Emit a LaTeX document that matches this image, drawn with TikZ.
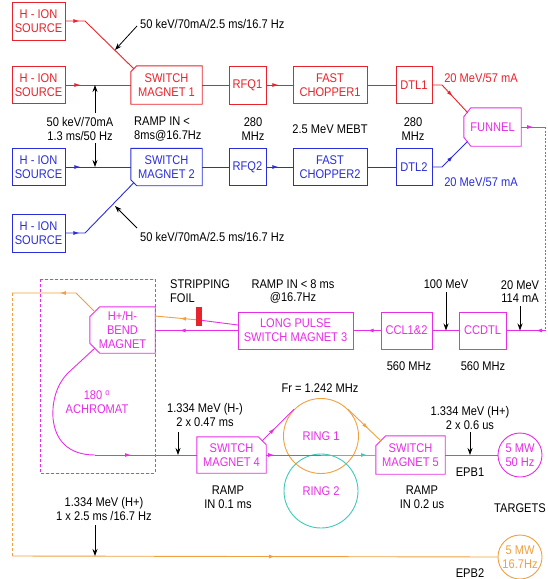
\documentclass[tikz,border=0pt]{standalone}
\usepackage{fontspec}
\setmainfont{Liberation Sans}[FakeStretch=0.88]
\usetikzlibrary{arrows.meta,decorations.markings,calc}
\definecolor{cred}{HTML}{E8232B}
\definecolor{cblue}{HTML}{2A2ED8}
\definecolor{cmag}{HTML}{E62EE6}
\definecolor{corange}{HTML}{F0A040}
\definecolor{cteal}{HTML}{40C8B8}
\tikzset{
  fs/.style={font=\fontsize{12.6}{13.8}\selectfont},
  lbl/.style={fs, align=center, inner sep=0},
  box/.style={fs, draw, rectangle, line width=0.9pt, inner sep=0, align=center},
  tbox/.style={fs, rectangle, inner sep=0, align=center},
  ln/.style={line width=0.9pt},
  outl/.style={line width=0.9pt},
  midarr/.style={postaction={decorate}, decoration={markings, mark=at position #1 with {\arrow{Latex[length=6pt,width=4pt]}}}},
  larr/.style={black, line width=0.8pt, -{Stealth[length=7pt,width=5pt]}},
  ring/.style={fs, circle, draw, line width=0.9pt, inner sep=0, align=center}
}
\begin{document}
\begin{tikzpicture}[x=1pt,y=-1pt]
\useasboundingbox (0,0) rectangle (547,579);

% ---------------- red line ----------------
\node[box, cred, minimum width=53, minimum height=38] (src1) at (38.5,21) {H - ION\\SOURCE};
\node[box, cred, minimum width=53, minimum height=37] (src2) at (38.5,85) {H - ION\\SOURCE};
\node[tbox, cred, minimum width=71, minimum height=38] (sm1) at (166.5,85) {SWITCH\\MAGNET 1};
\draw[cred, outl] ($(sm1.north west)+(6,0)$) -- (sm1.north east) -- (sm1.south east) -- (sm1.south west) -- ($(sm1.north west)+(0,6)$) -- cycle;
\node[box, cred, minimum width=37, minimum height=38] (rfq1) at (247.5,85) {RFQ1};
\node[box, cred, minimum width=74, minimum height=37] (fc1) at (330,85) {FAST\\CHOPPER1};
\node[box, cred, minimum width=36, minimum height=37] (dtl1) at (414,85) {DTL1};

% ---------------- blue line ----------------
\node[box, cblue, minimum width=53, minimum height=37] (src3) at (38.5,167) {H - ION\\SOURCE};
\node[box, cblue, minimum width=53, minimum height=38] (src4) at (38.5,233) {H - ION\\SOURCE};
\node[tbox, cblue, minimum width=71, minimum height=37] (sm2) at (166.5,167) {SWITCH\\MAGNET 2};
\draw[cblue, outl] (sm2.north west) -- (sm2.north east) -- (sm2.south east) -- ($(sm2.south west)+(6,0)$) -- ($(sm2.south west)+(0,-6)$) -- cycle;
\node[box, cblue, minimum width=37, minimum height=37] (rfq2) at (247.5,167) {RFQ2};
\node[box, cblue, minimum width=74, minimum height=37] (fc2) at (330,167) {FAST\\CHOPPER2};
\node[box, cblue, minimum width=36, minimum height=37] (dtl2) at (414,167) {DTL2};

% funnel
\node[tbox, cmag, minimum width=57, minimum height=38] (fun) at (492.5,127) {FUNNEL};
\draw[cmag, outl] ($(fun.north west)+(7,0)$) -- (fun.north east) -- (fun.south east) -- ($(fun.south west)+(7,0)$) -- ($(fun.south west)+(0,-9)$) -- ($(fun.north west)+(0,9)$) -- cycle;

% red connectors
\coordinate (r1a) at (85,21);
\coordinate (sm1c) at (134,69);
\draw[cred, ln, midarr=14pt] (src1.east) -- (r1a) -- (sm1c);
\draw[cred, ln, midarr=15pt] (src2.east) -- (sm1.west);
\draw[cred, ln] (sm1.east) -- (rfq1.west);
\draw[cred, ln, midarr=12pt] (rfq1.east) -- (fc1.west);
\draw[cred, ln] (fc1.east) -- (dtl1.west);
\coordinate (r2a) at (442,85);
\coordinate (funt) at (467.5,112.5);
\draw[cred, ln, midarr=25pt] (dtl1.east) -- (r2a) -- (funt);

% blue connectors
\coordinate (b1a) at (85,233);
\coordinate (sm2c) at (134,182.5);
\draw[cblue, ln, midarr=14pt] (src4.east) -- (b1a) -- (sm2c);
\draw[cblue, ln, midarr=15pt] (src3.east) -- (sm2.west);
\draw[cblue, ln] (sm2.east) -- (rfq2.west);
\draw[cblue, ln, midarr=12pt] (rfq2.east) -- (fc2.west);
\draw[cblue, ln] (fc2.east) -- (dtl2.west);
\coordinate (b2a) at (442,167);
\coordinate (funb) at (467.5,141.5);
\draw[cblue, ln, midarr=25pt] (dtl2.east) -- (b2a) -- (funb);

% funnel out
\coordinate (rt1) at (545,127);
\coordinate (rt2) at (545,330.5);
\draw[cmag, ln, midarr=12pt] (fun.east) -- (rt1);
\draw[cmag, line width=0.6pt, dash pattern=on 2pt off 1.5pt] (rt1) -- (rt2);

% upper labels
\node[lbl, anchor=west] (t1) at (140,24) {50 keV/70mA/2.5 ms/16.7 Hz};
\node[lbl, anchor=west] (t2) at (140,237) {50 keV/70mA/2.5 ms/16.7 Hz};
\node[lbl] (t3) at (80,129) {50 keV/70mA\\1.3 ms/50 Hz};
\node[lbl, align=left, anchor=west] (t4) at (134,129) {RAMP IN <\\8ms@16.7Hz};
\node[lbl] (t5) at (253,129) {280\\MHz};
\node[lbl] (t6) at (330,129) {2.5 MeV MEBT};
\node[lbl] (t7) at (413,129) {280\\MHz};
\node[lbl, cred] (t8) at (481,78) {20 MeV/57 mA};
\node[lbl, cblue] (t9) at (481,182) {20 MeV/57 mA};

\coordinate (a1s) at (137,26); \coordinate (a1e) at (115,50);
\draw[larr] (a1s) -- (a1e);
\coordinate (a2s) at (95,113); \coordinate (a2e) at (95,85);
\draw[larr] (a2s) -- (a2e);
\coordinate (a3s) at (95,143); \coordinate (a3e) at (95,167);
\draw[larr] (a3s) -- (a3e);
\coordinate (a4s) at (137,228); \coordinate (a4e) at (115,206);
\draw[larr] (a4s) -- (a4e);

% ---------------- lower part ----------------
\draw[cmag, line width=0.8pt, dash pattern=on 3pt off 2pt] (40,279) rectangle (155,473);

\node[tbox, cmag, minimum width=65, minimum height=46] (bend) at (122.5,330) {H+/H-\\BEND\\MAGNET};
\draw[cmag, outl] ($(bend.north west)+(10,0)$) -- (bend.north east) -- (bend.south east) -- ($(bend.south west)+(10,0)$) -- ($(bend.south west)+(0,-10)$) -- ($(bend.north west)+(0,10)$) -- cycle;

\node[box, cmag, minimum width=115, minimum height=37] (sm3) at (295.5,330.5) {LONG PULSE\\SWITCH MAGNET 3};
\node[box, cmag, minimum width=51, minimum height=37] (ccl) at (406.5,330.5) {CCL1\&2};
\node[box, cmag, minimum width=47, minimum height=37] (ccdtl) at (482.5,330.5) {CCDTL};

\draw[cmag, ln, midarr=9pt] (rt2) -- (ccdtl.east);
\draw[cmag, ln] (ccdtl.west) -- (ccl.east);
\draw[cmag, ln, midarr=13pt] (ccl.west) -- (sm3.east);
\draw[cmag, ln, midarr=58pt] (sm3.west) -- (bend.east |- sm3.west);

\coordinate (s3a) at (238,325);
\coordinate (fct) at (199,320);
\coordinate (bnd1) at (155,316);
\draw[cmag, ln] (s3a) -- (fct);
\draw[corange, ln, midarr=19pt] (fct) -- (bnd1);
\node[fill=cred, minimum width=6, minimum height=19, inner sep=0] (foil) at (199,316.5) {};

% orange H+ path
\coordinate (bt) at (95,312);
\coordinate (bk) at (76,293);
\coordinate (ot) at (12,293);
\coordinate (ol) at (12,556);
\draw[corange, ln, midarr=43pt] (bt) -- (bk) -- (ot);
\draw[corange, ln, dash pattern=on 3pt off 2pt] (ot) -- (ol);

% achromat
\node[tbox, cmag, minimum width=69, minimum height=36] (sm4) at (231.5,455) {SWITCH\\MAGNET 4};
\draw[cmag, outl] (sm4.north west) -- ($(sm4.north east)+(-8,0)$) -- ($(sm4.north east)+(0,8)$) -- (sm4.south east) -- (sm4.south west) -- cycle;
\coordinate (bb) at (95,348);
\coordinate (ae) at (95,455);
\draw[cmag, ln] (bb) -- (68,373) .. controls (55,386) and (52,405) .. (53,418) .. controls (55,440) and (68,455) .. (ae);
\draw[cmag, ln, midarr=36pt] (ae) -- (sm4.west);

% rings
\node[ring, corange, text=cmag, minimum size=75] (ring1) at (321,436) {RING 1};
\node[ring, cteal, text=cmag, minimum size=74] (ring2) at (321,491) {RING 2};

\node[tbox, cmag, minimum width=69, minimum height=38] (sm5) at (410.5,455) {SWITCH\\MAGNET 5};
\draw[cmag, outl] ($(sm5.north west)+(10,0)$) -- (sm5.north east) -- (sm5.south east) -- (sm5.south west) -- ($(sm5.north west)+(0,10)$) -- cycle;

\coordinate (sm4c) at (262,441);
\coordinate (sm5c) at (381,441);
\coordinate (rc) at (321,455);
\draw[cmag, ln, midarr=18pt] (sm4c) -- (ring1.135);
\draw[corange, ln, midarr=28pt] (ring1.45) -- (sm5c);
\draw[cmag, ln, midarr=8pt] (sm4.east) -- (rc);
\draw[cteal, ln, midarr=46pt] (rc) -- (sm5.west);

% targets
\node[ring, cmag, minimum size=44] (tgt1) at (520,455) {5 MW\\50 Hz};
\node[ring, corange, minimum size=44] (tgt2) at (520,557) {5 MW\\16.7Hz};
\draw[cmag, ln] (sm5.east) -- (tgt1.west);
\draw[corange, ln, midarr=263pt] (ol) -- (tgt2.west);

% lower labels
\node[lbl, align=left, anchor=west] (l1) at (170,291.5) {STRIPPING\\FOIL};
\node[lbl] (l2) at (293,291.5) {RAMP IN < 8 ms\\@16.7Hz};
\node[lbl] (l3) at (446,284) {100 MeV};
\node[lbl] (l4) at (520,291.5) {20 MeV\\114 mA};
\node[lbl] (l5) at (409,366) {560 MHz};
\node[lbl] (l6) at (483,366) {560 MHz};
\node[lbl, cmag] (l7) at (97,402) {180 \textsuperscript{o}\\ACHROMAT};
\node[lbl] (l8) at (320,388) {Fr = 1.242 MHz};
\node[lbl] (l9) at (205,415) {1.334 MeV (H-)\\2 x 0.47 ms};
\node[lbl] (l10) at (470,418) {1.334 MeV (H+)\\2 x 0.6 us};
\node[lbl] (l11) at (228,497) {RAMP\\IN 0.1 ms};
\node[lbl] (l12) at (422,497) {RAMP\\IN 0.2 us};
\node[lbl] (l13) at (470,472) {EPB1};
\node[lbl] (l14) at (520,508) {TARGETS};
\node[lbl] (l15) at (104,509) {1.334 MeV (H+)\\1 x 2.5 ms /16.7 Hz};
\node[lbl] (l16) at (470,573) {EPB2};

\coordinate (a5s) at (446,292); \coordinate (a5e) at (446,330.5);
\draw[larr] (a5s) -- (a5e);
\coordinate (a6s) at (520,306); \coordinate (a6e) at (520,330.5);
\draw[larr] (a6s) -- (a6e);
\coordinate (a7s) at (178,432); \coordinate (a7e) at (178,455);
\draw[larr] (a7s) -- (a7e);
\coordinate (a8s) at (470,432); \coordinate (a8e) at (470,455);
\draw[larr] (a8s) -- (a8e);
\coordinate (a9s) at (95,525); \coordinate (a9e) at (95,556);
\draw[larr] (a9s) -- (a9e);
\end{tikzpicture}
\end{document}
